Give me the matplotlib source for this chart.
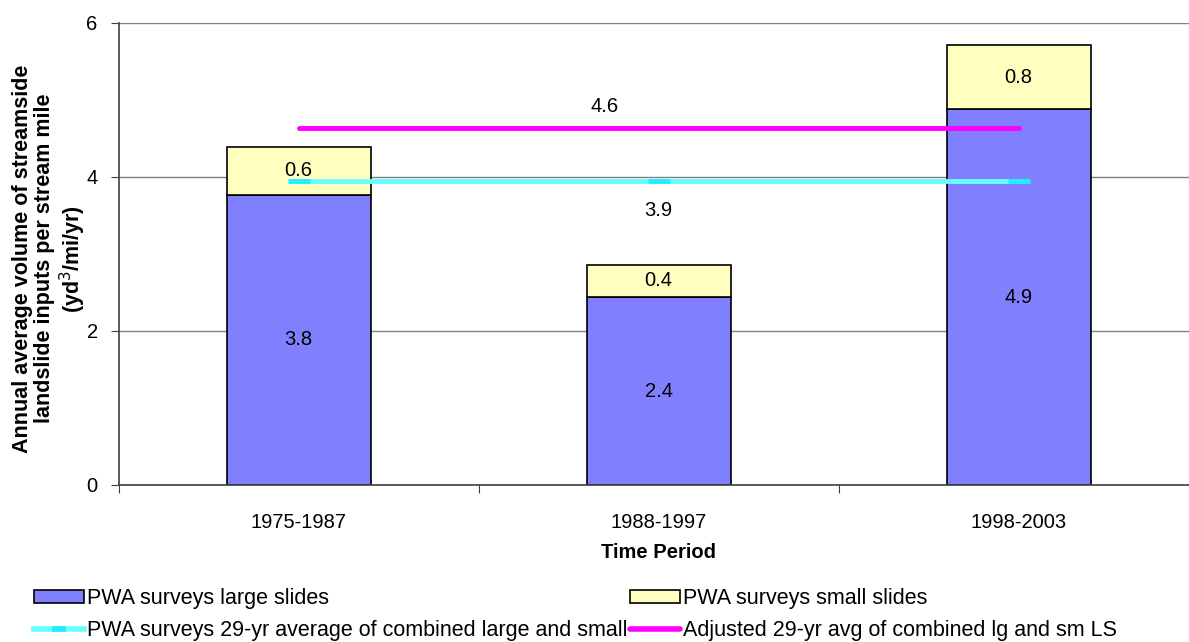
import matplotlib.pyplot as plt
from matplotlib.lines import Line2D
from matplotlib.patches import Patch

plt.rcParams["font.family"] = ["Liberation Sans", "DejaVu Sans"]

periods = ["1975-1987", "1988-1997", "1998-2003"]
large_slides = [3.77, 2.44, 4.88]
small_slides = [0.62, 0.42, 0.83]
large_labels = ["3.8", "2.4", "4.9"]
small_labels = ["0.6", "0.4", "0.8"]
avg_29yr = [3.95, 3.95, 3.95]
adjusted_29yr = [4.64, 4.64, 4.64]

BLUE = "#8080FF"
YELLOW = "#FFFFC0"
CYAN = "#66FFFF"
CYAN_MARK = "#22EEFF"
MAGENTA = "#FF00FF"

fig = plt.figure(figsize=(11.89, 6.42), dpi=100)
ax = fig.add_axes([118.5 / 1189, 157 / 642, 1080 / 1189, 462 / 642])

x = list(range(len(periods)))
ax.bar(x, large_slides, width=0.4, color=BLUE, edgecolor="black", linewidth=1.2, zorder=2)
ax.bar(x, small_slides, width=0.4, bottom=large_slides, color=YELLOW,
       edgecolor="black", linewidth=1.2, zorder=2)

for i in x:
    ax.text(i, large_slides[i] / 2, large_labels[i], ha="center", va="center", fontsize=14.5, zorder=4)
    ax.text(i, large_slides[i] + small_slides[i] / 2, small_labels[i], ha="center", va="center",
            fontsize=14.5, zorder=4)

ax.plot(x, adjusted_29yr, color=MAGENTA, lw=3.5, solid_capstyle="round", zorder=3)
ax.plot(x, avg_29yr, color=CYAN, lw=3.5, zorder=3)
ax.plot(x, avg_29yr, ls="none", marker="_", markersize=16, mew=3.5, color=CYAN_MARK, zorder=3)

ax.text(0.85, adjusted_29yr[0] + 0.28, "4.6", ha="center", va="center", fontsize=14.5)
ax.text(1, avg_29yr[1] - 0.38, "3.9", ha="center", va="center", fontsize=14.5)

ax.set_xlim(-0.5, 2.5)
ax.set_ylim(0, 6)
ax.set_yticks([0, 2, 4, 6])
ax.yaxis.grid(True, color="#808080", lw=1)
ax.set_axisbelow(True)
for side in ["top", "right"]:
    ax.spines[side].set_visible(False)
for side in ["left", "bottom"]:
    ax.spines[side].set_color("#404040")
    ax.spines[side].set_linewidth(1.2)

ax.set_xticks([-0.5, 0.5, 1.5, 2.5])
ax.set_xticklabels([])
ax.set_xticks(x, minor=True)
ax.set_xticklabels(periods, minor=True, fontsize=14.5)
ax.tick_params(axis="x", which="major", direction="out", length=6, color="#404040")
ax.tick_params(axis="x", which="minor", length=0, pad=20)
ax.tick_params(axis="y", direction="out", length=6, color="#404040", labelsize=14.5, pad=9)

ax.set_xlabel("Time Period", fontsize=14.5, fontweight="bold", labelpad=8)
ax.set_ylabel("Annual average volume of streamside\nlandslide inputs per stream mile\n(yd$^3$/mi/yr)",
              fontsize=15.5, fontweight="bold", linespacing=1.1)
ax.yaxis.set_label_coords(-0.0285, 0.49)

handles = [
    Patch(facecolor=BLUE, edgecolor="black", lw=1.2),
    Line2D([0], [0], color=CYAN, lw=4, marker="_", markersize=10, mew=4, markeredgecolor=CYAN_MARK),
    Patch(facecolor=YELLOW, edgecolor="black", lw=1.2),
    Line2D([0], [0], color=MAGENTA, lw=4, solid_capstyle="round"),
]
labels = [
    "PWA surveys large slides",
    "PWA surveys 29-yr average of combined large and small",
    "PWA surveys small slides",
    "Adjusted 29-yr avg of combined lg and sm LS",
]
fig.legend(handles, labels, ncol=2, loc="upper left", bbox_to_anchor=(34 / 1189, 1 - 588 / 642),
           frameon=False, fontsize=15.5, handlelength=2.3, handleheight=0.55, handletextpad=0.15,
           columnspacing=0.15, labelspacing=0.5, borderaxespad=0, borderpad=0)

fig.savefig("out.png", dpi=100)
